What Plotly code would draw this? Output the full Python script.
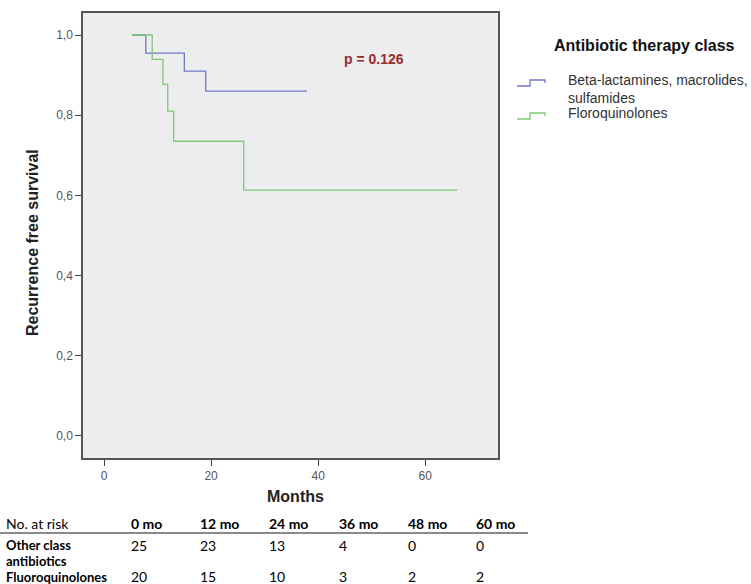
import plotly.graph_objects as go

# ---- data ----
beta_time = [5.2, 7.8, 15.0, 19.0, 37.9]
beta_surv = [1.0, 0.955, 0.91, 0.86, 0.86]
fq_time = [5.2, 9.0, 11.0, 11.9, 13.0, 26.1, 66.0]
fq_surv = [1.0, 0.939, 0.877, 0.81, 0.735, 0.613, 0.613]

y_ticks = [0.0, 0.2, 0.4, 0.6, 0.8, 1.0]
y_ticktext = ["0,0", "0,2", "0,4", "0,6", "0,8", "1,0"]
x_ticks = [0, 20, 40, 60]

legend_title = "Antibiotic therapy class"
legend_labels = ["Beta-lactamines, macrolides,<br>sulfamides", "Floroquinolones"]
p_text = "p = 0.126"

risk_header = ["No. at risk", "0 mo", "12 mo", "24 mo", "36 mo", "48 mo", "60 mo"]
risk_rows = [["Other class", "antibiotics"], ["Fluoroquinolones"]]
risk_other = [25, 23, 13, 4, 0, 0]
risk_fq = [20, 15, 10, 3, 2, 2]

BLUE = "#6f78c6"
GREEN = "#82c878"

# ---- layout geometry (pixels) ----
W, H = 751, 584
L, R, T, B = 83, 498, 13, 458


def px(x):
    return (x - L) / (R - L)


def py(y):
    return (B - y) / (B - T)


def note(x, y, text, size, color="#000", family="Liberation Sans", xanchor="left", **kw):
    return dict(x=px(x), y=py(y), xref="paper", yref="paper", text=text, showarrow=False,
                xanchor=xanchor, yanchor="middle", align="left",
                font=dict(family=family, size=size, color=color), **kw)


fig = go.Figure()
fig.add_trace(go.Scatter(x=beta_time, y=beta_surv, mode="lines", line_shape="hv",
                         line=dict(color=BLUE, width=1.3), showlegend=False, hoverinfo="skip"))
fig.add_trace(go.Scatter(x=fq_time, y=fq_surv, mode="lines", line_shape="hv",
                         line=dict(color=GREEN, width=1.3), showlegend=False, hoverinfo="skip"))

ann = []
shapes = []

# p-value
ann.append(note(374, 59, "<b>" + p_text + "</b>", 14, "#9a2b2e", xanchor="center"))

# axis titles
ann.append(note(33, 243, "<b>Recurrence free survival</b>", 16, "#222", xanchor="center", textangle=-90))
ann.append(note(295, 496, "<b>Months</b>", 16, "#222", xanchor="center"))

# legend
ann.append(note(552, 45, "<b>" + legend_title + "</b>", 16, "#111"))
leg_y = [79, 112]
leg_cols = [BLUE, GREEN]
for i, lab in enumerate(legend_labels):
    ann.append(dict(x=px(566), y=py(leg_y[i] - 9), xref="paper", yref="paper", text=lab,
                    xanchor="left", yanchor="top", align="left", showarrow=False,
                    font=dict(family="Liberation Sans", size=14, color="#333")))
    yc = leg_y[i] + 4
    x0, x1, x3 = px(517), px(530), px(545)
    ylo, yhi = py(yc + 3), py(yc - 3)
    shapes.append(dict(type="path", xref="paper", yref="paper",
                       path=f"M {x0} {ylo} L {x1} {ylo} L {x1} {yhi} L {x3} {yhi} L {x3} {py(yc)}",
                       line=dict(color=leg_cols[i], width=1.3)))

# risk table
col_x = [4, 129, 198, 267, 337, 406, 474]
TF = "Lato"
TS = 13
for j, h in enumerate(risk_header):
    txt = h if j == 0 else "<b>" + h + "</b>"
    ann.append(note(col_x[j], 523, txt, TS + 1, family=TF))
shapes.append(dict(type="line", xref="paper", yref="paper", x0=px(0), x1=px(528), y0=py(533), y1=py(533),
                   line=dict(color="#8a8a8a", width=2)))
row_line_y = [[545, 561], [576.5]]
for r, lines in enumerate(risk_rows):
    for k, t in enumerate(lines):
        ann.append(note(col_x[0], row_line_y[r][k], "<b>" + t + "</b>", TS, family=TF))
for j in range(len(risk_other)):
    ann.append(note(col_x[j + 1], 545, str(risk_other[j]), TS + 1, family=TF))
    ann.append(note(col_x[j + 1], 576.5, str(risk_fq[j]), TS + 1, family=TF))

fig.update_layout(
    width=W, height=H,
    margin=dict(l=L, r=W - R, t=T, b=H - B, pad=0),
    paper_bgcolor="white", plot_bgcolor="#ededf0",
    showlegend=False,
    annotations=ann, shapes=shapes,
    xaxis=dict(range=[-3.93, 73.6], tickvals=x_ticks, ticks="outside", ticklen=6, tickwidth=1.2,
               tickcolor="#444", showgrid=False, zeroline=False, showline=True, mirror=True,
               linecolor="#555", linewidth=1.5,
               tickfont=dict(family="Liberation Sans", size=12, color="#555")),
    yaxis=dict(range=[-0.0549, 1.0549], tickvals=y_ticks, ticktext=y_ticktext, ticks="outside",
               ticklen=6, tickwidth=1.2, tickcolor="#444", showgrid=False, zeroline=False,
               showline=True, mirror=True, linecolor="#555", linewidth=1.5,
               tickfont=dict(family="Liberation Sans", size=12, color="#555")),
)

fig.write_html("out.html", config={"displayModeBar": False},
               post_script="document.body.style.margin='0';document.body.style.overflow='hidden';")
